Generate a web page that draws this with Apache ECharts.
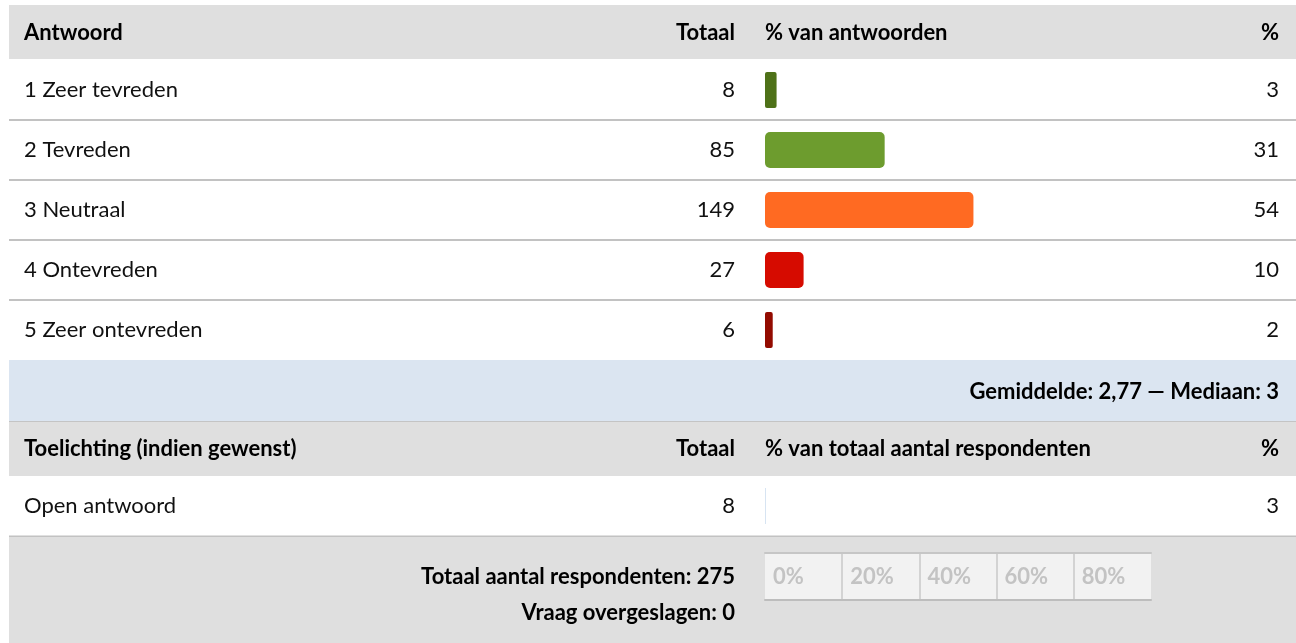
<!DOCTYPE html>
<html>
<head>
<meta charset="utf-8">
<script src="https://cdn.jsdelivr.net/npm/echarts@6/dist/echarts.min.js"></script>
<style>
  html, body { margin: 0; padding: 0; background: #ffffff; }
  #chart { width: 1296px; height: 643px; }
</style>
</head>
<body>
<div id="chart"></div>
<script>
// Survey answers
const answers = ['1 Zeer tevreden', '2 Tevreden', '3 Neutraal', '4 Ontevreden', '5 Zeer ontevreden'];
const answerCounts = [8, 85, 149, 27, 6];
const answerPercents = [3, 31, 54, 10, 2];
const answerColors = ['#4e7118', '#6d9c2e', '#ff6a22', '#d60b00', '#930b00'];

// Optional comment question
const commentRows = ['Open antwoord'];
const commentCounts = [8];
const commentPercents = [3];

// Scale strip labels
const scaleTicks = ['0%', '20%', '40%', '60%', '80%'];
const skippedCount = 0;

// Derived summary figures
const totalRespondents = answerCounts.reduce((a, b) => a + b, 0);
const mean = answerCounts.reduce((s, c, i) => s + (i + 1) * c, 0) / totalRespondents;
let cum = 0, median = 0;
for (let i = 0; i < answerCounts.length; i++) {
  cum += answerCounts[i];
  if (cum >= totalRespondents / 2) { median = i + 1; break; }
}
const meanText = mean.toFixed(2).replace('.', ',');

// Layout
const FONT = 'Lato';
const FS = 22;
const X0 = 9, TEXT_X = 24, TOTAL_R = 735, BAR_L = 765, BAR_W = 386, PCT_R = 1279, W = 1296;

const chart = echarts.init(document.getElementById('chart'), null, { renderer: 'canvas' });

const labelStyle = { fontFamily: FONT, fontSize: FS, color: '#111111' };

function band(y, h, fill) {
  return { type: 'rect', z: -100, silent: true, shape: { x: X0, y: y, width: W - X0, height: h }, style: { fill: fill } };
}
function txt(x, y, text, align, bold) {
  return {
    type: 'text', z: 100, silent: true, x: x, y: y,
    style: {
      text: text, fill: '#000000', align: align, verticalAlign: 'middle',
      font: (bold ? 'bold ' : '') + FS + 'px ' + FONT
    }
  };
}

function hiddenX(gridIndex) {
  return { type: 'value', gridIndex: gridIndex, min: 0, max: 100, show: false };
}
function catY(gridIndex, data, position, opts) {
  return Object.assign({
    type: 'category', gridIndex: gridIndex, data: data, inverse: true, position: position,
    axisLine: { show: false }, axisTick: { show: false },
    splitLine: { show: false }
  }, opts);
}

const option = {
  animation: false,
  backgroundColor: '#ffffff',
  grid: [
    { left: X0, right: 0, top: 60, height: 300 },            // answer rows
    { left: BAR_L, width: BAR_W, top: 60, height: 300 },     // answer bars
    { left: X0, right: 0, top: 476, height: 60 },            // comment row
    { left: BAR_L, width: BAR_W, top: 476, height: 60 },     // comment bar
    { left: BAR_L, width: BAR_W, top: 553, height: 47, show: true, backgroundColor: '#f2f2f2', borderWidth: 0 } // scale strip
  ],
  xAxis: [
    hiddenX(0), hiddenX(1), hiddenX(2), hiddenX(3),
    {
      type: 'value', gridIndex: 4, min: 0, max: 100, interval: 20, position: 'bottom',
      axisLine: { show: true, lineStyle: { color: '#bdbdbd', width: 2 } },
      axisTick: { show: false },
      splitLine: { show: true, showMinLine: false, showMaxLine: false, lineStyle: { color: '#d3d3d3', width: 2 } },
      axisLabel: {
        inside: true, margin: 23, align: 'left', verticalAlign: 'middle', padding: [0, 0, 0, 8],
        showMaxLabel: false, fontFamily: FONT, fontSize: FS, fontWeight: 'bold', color: '#c3c3c3',
        formatter: (v) => scaleTicks[Math.round(v / 20)] || ''
      }
    },
    {
      type: 'value', gridIndex: 4, min: 0, max: 100, position: 'top',
      axisLine: { show: true, lineStyle: { color: '#c6c6c6', width: 2 } },
      axisTick: { show: false }, axisLabel: { show: false }, splitLine: { show: false }
    }
  ],
  yAxis: [
    catY(0, answers, 'left', {
      axisLabel: Object.assign({ inside: true, margin: TEXT_X - X0 }, labelStyle),
      splitLine: { show: true, showMinLine: false, showMaxLine: false, lineStyle: { color: '#c2c2c2', width: 2 } }
    }),
    catY(0, answerPercents.map(String), 'right', {
      axisLabel: Object.assign({ inside: true, margin: W - PCT_R }, labelStyle)
    }),
    catY(1, answerCounts.map(String), 'left', {
      axisLabel: Object.assign({ margin: BAR_L - TOTAL_R }, labelStyle)
    }),
    catY(2, commentRows, 'left', {
      axisLabel: Object.assign({ inside: true, margin: TEXT_X - X0 }, labelStyle)
    }),
    catY(2, commentPercents.map(String), 'right', {
      axisLabel: Object.assign({ inside: true, margin: W - PCT_R }, labelStyle)
    }),
    catY(3, commentCounts.map(String), 'left', {
      axisLabel: Object.assign({ margin: BAR_L - TOTAL_R }, labelStyle)
    }),
    { type: 'value', gridIndex: 4, show: false }
  ],
  series: [
    {
      type: 'bar', xAxisIndex: 1, yAxisIndex: 2, barWidth: 36,
      data: answerPercents.map((v, i) => ({
        value: v,
        itemStyle: { color: answerColors[i], borderRadius: v < 5 ? 2 : 5 }
      }))
    },
    {
      // comment share: only a faint leading edge is painted
      type: 'bar', xAxisIndex: 3, yAxisIndex: 5, barWidth: 36,
      data: commentPercents.map(v => ({
        value: v,
        itemStyle: {
          color: new echarts.graphic.LinearGradient(0, 0, 1, 0, [
            { offset: 0, color: '#d7e4f2' }, { offset: 0.1, color: '#d7e4f2' },
            { offset: 0.1, color: 'rgba(255,255,255,0)' }, { offset: 1, color: 'rgba(255,255,255,0)' }
          ])
        }
      }))
    }
  ],
  graphic: [
    band(5, 54, '#dfdfdf'),
    band(360, 61, '#dbe5f1'),
    band(421, 1.5, '#c4c4c4'),
    band(422, 54, '#dfdfdf'),
    band(535.5, 1.5, '#c2c2c2'),
    band(537, 106, '#dfdfdf'),

    txt(TEXT_X, 33, 'Antwoord', 'left', true),
    txt(TOTAL_R, 33, 'Totaal', 'right', true),
    txt(BAR_L, 33, '% van antwoorden', 'left', true),
    txt(PCT_R, 33, '%', 'right', true),

    txt(PCT_R, 392, 'Gemiddelde: ' + meanText + ' \u2014 Mediaan: ' + median, 'right', true),

    txt(TEXT_X, 449, 'Toelichting (indien gewenst)', 'left', true),
    txt(TOTAL_R, 449, 'Totaal', 'right', true),
    txt(BAR_L, 449, '% van totaal aantal respondenten', 'left', true),
    txt(PCT_R, 449, '%', 'right', true),

    txt(TOTAL_R, 577, 'Totaal aantal respondenten: ' + totalRespondents, 'right', true),
    txt(TOTAL_R, 613, 'Vraag overgeslagen: ' + skippedCount, 'right', true)
  ]
};

chart.setOption(option);
</script>
</body>
</html>
